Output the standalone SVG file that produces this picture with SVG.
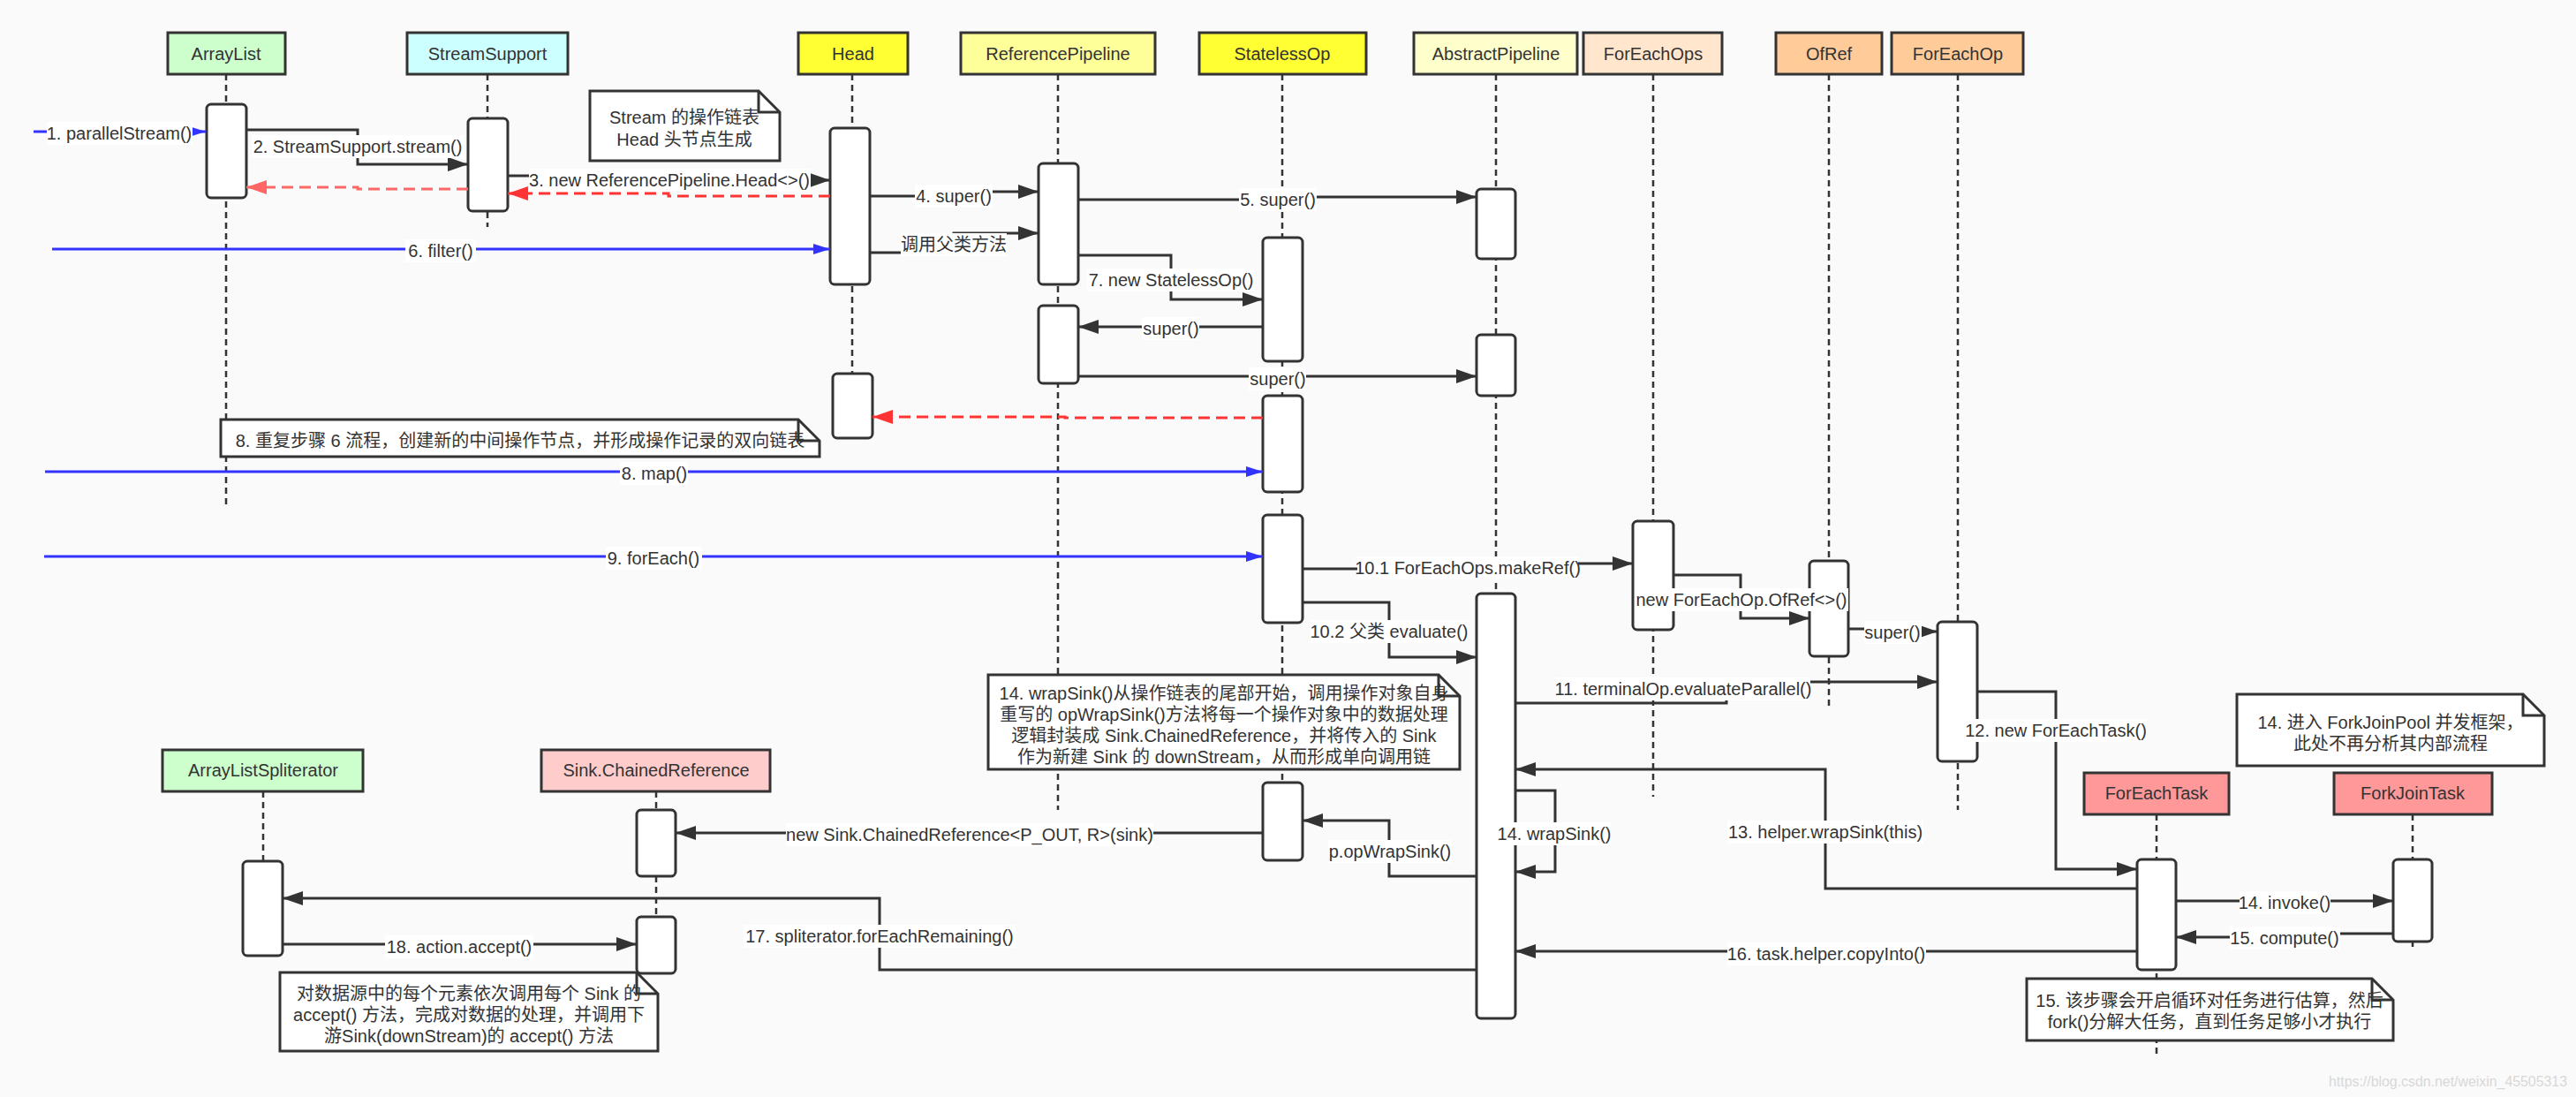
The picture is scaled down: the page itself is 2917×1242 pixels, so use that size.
<svg xmlns="http://www.w3.org/2000/svg" width="2917" height="1242" viewBox="0 0 2917 1242">
<style>
text{font-family:"Liberation Sans","Noto Sans CJK SC",sans-serif;font-size:20px;fill:#333;text-anchor:middle}
.hd{stroke:#333;stroke-width:3}
.life{stroke:#333;stroke-width:2.5;stroke-dasharray:7 5;fill:none}
.act{fill:#fff;stroke:#333;stroke-width:3}
.m{fill:none;stroke:#333;stroke-width:3;marker-end:url(#ah)}
.b{fill:none;stroke:#3333FF;stroke-width:3;marker-end:url(#ahb)}
.r{fill:none;stroke:#FF3333;stroke-width:3;stroke-dasharray:13 7;marker-end:url(#ahr)}
.rl{fill:none;stroke:#FF6666;stroke-width:3;stroke-dasharray:13 7;marker-end:url(#ahl)}
.lb{fill:#fff}
.note{fill:#fff;stroke:#333;stroke-width:3;stroke-linejoin:miter}
.fold{fill:none;stroke:#333;stroke-width:3}
.wm{font-size:16px;fill:#d8d8d8;text-anchor:start}
</style>
<defs>
<marker id="ah" markerUnits="userSpaceOnUse" markerWidth="24" markerHeight="18" refX="23" refY="9" orient="auto"><path d="M0,1 L23,9 L0,17 Z" fill="#333"/></marker>
<marker id="ahb" markerUnits="userSpaceOnUse" markerWidth="20" markerHeight="14" refX="19" refY="7" orient="auto"><path d="M0,1 L19,7 L0,13 Z" fill="#3333FF"/></marker>
<marker id="ahr" markerUnits="userSpaceOnUse" markerWidth="24" markerHeight="18" refX="23" refY="9" orient="auto"><path d="M0,1 L23,9 L0,17 Z" fill="#FF3333"/></marker>
<marker id="ahl" markerUnits="userSpaceOnUse" markerWidth="24" markerHeight="18" refX="23" refY="9" orient="auto"><path d="M0,1 L23,9 L0,17 Z" fill="#FF6666"/></marker>
</defs>
<rect x="0" y="0" width="2917" height="1242" fill="#FAFAFA"/>

<g id="ArrayList">
<line class="life" x1="256" y1="84" x2="256" y2="571"/>
<rect class="hd" x="190" y="37" width="133" height="47" fill="#CCFFCC"/>
<text x="256" y="68">ArrayList</text>
<rect class="act" x="234" y="118" width="45" height="106" rx="5"/>
</g>
<g id="StreamSupport">
<line class="life" x1="552" y1="84" x2="552" y2="257"/>
<rect class="hd" x="461" y="37" width="182" height="47" fill="#CCFFFF"/>
<text x="552" y="68">StreamSupport</text>
<rect class="act" x="530" y="134" width="45" height="105" rx="5"/>
</g>
<g id="Head">
<line class="life" x1="965" y1="84" x2="965" y2="496"/>
<rect class="hd" x="904" y="37" width="124" height="47" fill="#FFFF33"/>
<text x="966" y="68">Head</text>
<rect class="act" x="940" y="145" width="45" height="177" rx="5"/>
<rect class="act" x="943" y="423" width="45" height="73" rx="5"/>
</g>
<g id="ReferencePipeline">
<line class="life" x1="1198" y1="84" x2="1198" y2="917"/>
<rect class="hd" x="1088" y="37" width="220" height="47" fill="#FFFF99"/>
<text x="1198" y="68">ReferencePipeline</text>
<rect class="act" x="1176" y="185" width="45" height="137" rx="5"/>
<rect class="act" x="1176" y="346" width="45" height="88" rx="5"/>
</g>
<g id="StatelessOp">
<line class="life" x1="1452" y1="84" x2="1452" y2="886"/>
<rect class="hd" x="1358" y="37" width="189" height="47" fill="#FFFF33"/>
<text x="1452" y="68">StatelessOp</text>
<rect class="act" x="1430" y="269" width="45" height="140" rx="5"/>
<rect class="act" x="1430" y="448" width="45" height="109" rx="5"/>
<rect class="act" x="1430" y="583" width="45" height="122" rx="5"/>
<rect class="act" x="1430" y="886" width="45" height="88" rx="5"/>
</g>
<g id="AbstractPipeline">
<line class="life" x1="1694" y1="84" x2="1694" y2="1150"/>
<rect class="hd" x="1601" y="37" width="185" height="47" fill="#FFFFCC"/>
<text x="1694" y="68">AbstractPipeline</text>
<rect class="act" x="1672" y="214" width="44" height="79" rx="5"/>
<rect class="act" x="1672" y="379" width="44" height="69" rx="5"/>
<rect class="act" x="1672" y="672" width="44" height="481" rx="5"/>
</g>
<g id="ForEachOps">
<line class="life" x1="1872" y1="84" x2="1872" y2="902"/>
<rect class="hd" x="1793" y="37" width="157" height="47" fill="#FFE6CC"/>
<text x="1872" y="68">ForEachOps</text>
<rect class="act" x="1849" y="590" width="46" height="123" rx="5"/>
</g>
<g id="OfRef">
<line class="life" x1="2071" y1="84" x2="2071" y2="800"/>
<rect class="hd" x="2011" y="37" width="120" height="47" fill="#FFCC99"/>
<text x="2071" y="68">OfRef</text>
<rect class="act" x="2049" y="635" width="44" height="108" rx="5"/>
</g>
<g id="ForEachOp">
<line class="life" x1="2217" y1="84" x2="2217" y2="917"/>
<rect class="hd" x="2142" y="37" width="149" height="47" fill="#FFCC99"/>
<text x="2217" y="68">ForEachOp</text>
<rect class="act" x="2194" y="704" width="45" height="158" rx="5"/>
</g>
<g id="ArrayListSpliterator">
<line class="life" x1="298" y1="896" x2="298" y2="975"/>
<rect class="hd" x="184" y="849" width="227" height="47" fill="#CCFFCC"/>
<text x="298" y="879">ArrayListSpliterator</text>
<rect class="act" x="275" y="975" width="45" height="107" rx="5"/>
</g>
<g id="SinkChainedReference">
<line class="life" x1="743" y1="896" x2="743" y2="1100"/>
<rect class="hd" x="613" y="849" width="259" height="47" fill="#FFCCCC"/>
<text x="743" y="879">Sink.ChainedReference</text>
<rect class="act" x="721" y="917" width="44" height="75" rx="5"/>
<rect class="act" x="721" y="1038" width="44" height="64" rx="5"/>
</g>
<g id="ForEachTask">
<line class="life" x1="2442" y1="922" x2="2442" y2="1198"/>
<rect class="hd" x="2360" y="875" width="164" height="47" fill="#FF9999"/>
<text x="2442" y="905">ForEachTask</text>
<rect class="act" x="2420" y="973" width="44" height="125" rx="5"/>
</g>
<g id="ForkJoinTask">
<line class="life" x1="2732" y1="922" x2="2732" y2="1072"/>
<rect class="hd" x="2643" y="875" width="179" height="47" fill="#FF9999"/>
<text x="2732" y="905">ForkJoinTask</text>
<rect class="act" x="2710" y="973" width="44" height="93" rx="5"/>
</g>

<g id="connectors">
<path class="b" d="M38 149 H233"/>
<path class="m" d="M279 147 H405 V186 H530"/>
<path class="rl" d="M530 214 H405 V212 H279"/>
<path class="m" d="M575 199 H758 V204 H940"/>
<path class="r" d="M940 222 H757 V219 H575"/>
<path class="m" d="M985 222 H1080 V217 H1176"/>
<path class="m" d="M985 286 H1080 V264 H1176"/>
<path class="b" d="M59 282 H940"/>
<path class="m" d="M1221 226 H1447 V223 H1672"/>
<path class="m" d="M1221 289 H1326 V339 H1430"/>
<path class="m" d="M1430 370 H1221"/>
<path class="m" d="M1221 426 H1672"/>
<path class="r" d="M1430 473 H1206 V472 H988"/>
<path class="b" d="M51 534 H1430"/>
<path class="b" d="M50 630 H1430"/>
<path class="m" d="M1475 644 H1662 V638 H1849"/>
<path class="m" d="M1475 682 H1573 V744 H1672"/>
<path class="m" d="M1895 651 H1971 V700 H2049"/>
<path class="m" d="M2093 712 H2143 V715 H2194"/>
<path class="m" d="M1716 796 H1955 V772 H2194"/>
<path class="m" d="M2239 783 H2328 V984 H2420"/>
<path class="m" d="M2420 1006 H2067 V871 H1716"/>
<path class="m" d="M2464 1020 H2710"/>
<path class="m" d="M2710 1057 H2587 V1061 H2464"/>
<path class="m" d="M2420 1077 H1716"/>
<path class="m" d="M1716 895 H1761 V987 H1716"/>
<path class="m" d="M1672 992 H1573 V929 H1475"/>
<path class="m" d="M1430 943 H765"/>
<path class="m" d="M1672 1098 H996 V1017 H320"/>
<path class="m" d="M320 1069 H721"/>

<rect class="lb" x="53" y="138" width="165" height="26"/><text x="135" y="158">1. parallelStream()</text>
<rect class="lb" x="285" y="153" width="241" height="26"/><text x="405" y="173">2. StreamSupport.stream()</text>
<rect class="lb" x="599" y="191" width="319" height="26"/><text x="758" y="211">3. new ReferencePipeline.Head&lt;&gt;()</text>
<rect class="lb" x="1036" y="209" width="88" height="26"/><text x="1080" y="229">4. super()</text>
<rect class="lb" x="1020" y="264" width="120" height="26"/><text x="1080" y="284">调用父类方法</text>
<rect class="lb" x="459" y="271" width="80" height="26"/><text x="499" y="291">6. filter()</text>
<rect class="lb" x="1403" y="213" width="88" height="26"/><text x="1447" y="233">5. super()</text>
<rect class="lb" x="1231" y="304" width="190" height="26"/><text x="1326" y="324">7. new StatelessOp()</text>
<rect class="lb" x="1293" y="359" width="65" height="26"/><text x="1326" y="379">super()</text>
<rect class="lb" x="1414" y="416" width="65" height="26"/><text x="1447" y="436">super()</text>
<rect class="lb" x="702" y="523" width="77" height="26"/><text x="741" y="543">8. map()</text>
<rect class="lb" x="686" y="619" width="109" height="26"/><text x="740" y="639">9. forEach()</text>
<rect class="lb" x="1537" y="630" width="250" height="26"/><text x="1662" y="650">10.1 ForEachOps.makeRef()</text>
<rect class="lb" x="1484" y="702" width="179" height="26"/><text x="1573" y="722">10.2 父类 evaluate()</text>
<rect class="lb" x="1851" y="666" width="242" height="26"/><text x="1972" y="686">new ForEachOp.OfRef&lt;&gt;()</text>
<rect class="lb" x="2111" y="703" width="65" height="26"/><text x="2143" y="723">super()</text>
<rect class="lb" x="1763" y="767" width="287" height="26"/><text x="1906" y="787">11. terminalOp.evaluateParallel()</text>
<rect class="lb" x="2226" y="814" width="205" height="26"/><text x="2328" y="834">12. new ForEachTask()</text>
<rect class="lb" x="1956" y="929" width="222" height="26"/><text x="2067" y="949">13. helper.wrapSink(this)</text>
<rect class="lb" x="2536" y="1009" width="103" height="26"/><text x="2587" y="1029">14. invoke()</text>
<rect class="lb" x="2525" y="1049" width="125" height="26"/><text x="2587" y="1069">15. compute()</text>
<rect class="lb" x="1956" y="1067" width="225" height="26"/><text x="2068" y="1087">16. task.helper.copyInto()</text>
<rect class="lb" x="1696" y="931" width="128" height="26"/><text x="1760" y="951">14. wrapSink()</text>
<rect class="lb" x="1504" y="951" width="140" height="26"/><text x="1574" y="971">p.opWrapSink()</text>
<rect class="lb" x="890" y="932" width="416" height="26"/><text x="1098" y="952">new Sink.ChainedReference&lt;P_OUT, R&gt;(sink)</text>
<rect class="lb" x="842" y="1047" width="308" height="26"/><text x="996" y="1067">17. spliterator.forEachRemaining()</text>
<rect class="lb" x="436" y="1059" width="168" height="26"/><text x="520" y="1079">18. action.accept()</text>
</g>

<g id="note-stream">
<path class="note" d="M668 103 H859 L883 127 V182 H668 Z"/>
<path class="fold" d="M859 103 V127 H883"/>
<text x="775" y="140">Stream 的操作链表</text>
<text x="775" y="165">Head 头节点生成</text>
</g>
<g id="note-8">
<path class="note" d="M250 475 H904 L928 499 V517 H250 Z"/>
<path class="fold" d="M904 475 V499 H928"/>
<text x="589" y="506">8. 重复步骤 6 流程，创建新的中间操作节点，并形成操作记录的双向链表</text>
</g>
<g id="note-14-wrapSink">
<path class="note" d="M1119 764 H1629 L1653 788 V871 H1119 Z"/>
<path class="fold" d="M1629 764 V788 H1653"/>
<text x="1386" y="792">14. wrapSink()从操作链表的尾部开始，调用操作对象自身</text>
<text x="1386" y="816">重写的 opWrapSink()方法将每一个操作对象中的数据处理</text>
<text x="1386" y="840">逻辑封装成 Sink.ChainedReference，并将传入的 Sink</text>
<text x="1386" y="864">作为新建 Sink 的 downStream，从而形成单向调用链</text>
</g>
<g id="note-14-forkjoin">
<path class="note" d="M2533 786 H2857 L2881 810 V867 H2533 Z"/>
<path class="fold" d="M2857 786 V810 H2881"/>
<text x="2707" y="825">14. 进入 ForkJoinPool 并发框架，</text>
<text x="2707" y="849">此处不再分析其内部流程</text>
</g>
<g id="note-accept">
<path class="note" d="M317 1101 H721 L745 1125 V1190 H317 Z"/>
<path class="fold" d="M721 1101 V1125 H745"/>
<text x="531" y="1132">对数据源中的每个元素依次调用每个 Sink 的</text>
<text x="531" y="1156">accept() 方法，完成对数据的处理，并调用下</text>
<text x="531" y="1180">游Sink(downStream)的 accept() 方法</text>
</g>
<g id="note-15">
<path class="note" d="M2295 1108 H2686 L2710 1132 V1178 H2295 Z"/>
<path class="fold" d="M2686 1108 V1132 H2710"/>
<text x="2502" y="1140">15. 该步骤会开启循环对任务进行估算，然后</text>
<text x="2502" y="1164">fork()分解大任务，直到任务足够小才执行</text>
</g>
<text class="wm" x="2637" y="1230" textLength="270" lengthAdjust="spacingAndGlyphs">https://blog.csdn.net/weixin_45505313</text>
</svg>
